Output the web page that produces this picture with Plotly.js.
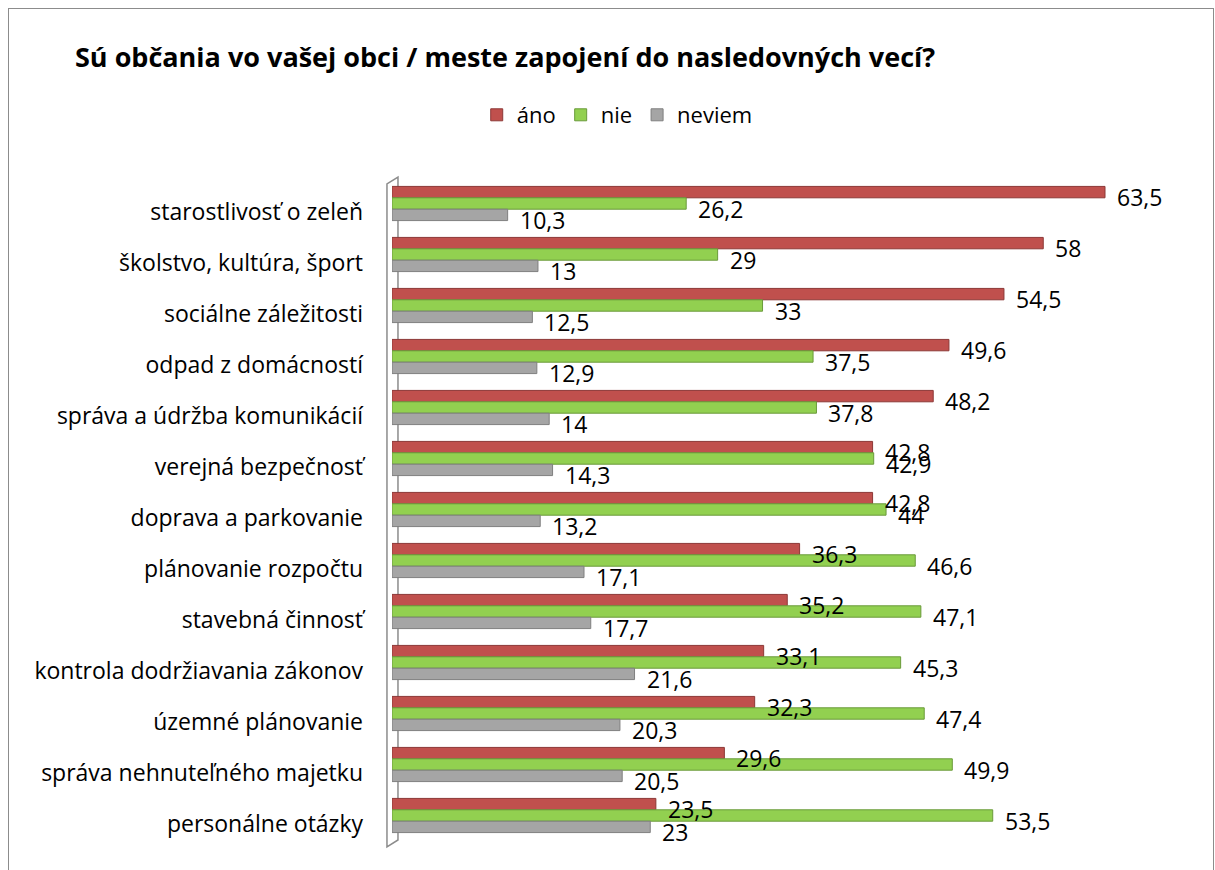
<!DOCTYPE html>
<html>
<head>
<meta charset="utf-8">
<script src="https://cdn.plot.ly/plotly-3.0.1.min.js"></script>
<style>
  html, body { margin: 0; padding: 0; background: #fff; }
  #chart { width: 1215px; height: 870px; position: absolute; left: 0; top: 0; }
  #frame { position: absolute; left: 8px; top: 8px; width: 1204px; height: 900px; border: 1px solid #8c8c8c; pointer-events: none; }
</style>
</head>
<body>
<div id="chart"></div>
<div id="frame"></div>
<script>
const chartTitle = 'Sú občania vo vašej obci / meste zapojení do nasledovných vecí?';
const categories = [
  'starostlivosť o zeleň',
  'školstvo, kultúra, šport',
  'sociálne záležitosti',
  'odpad z domácností',
  'správa a údržba komunikácií',
  'verejná bezpečnosť',
  'doprava a parkovanie',
  'plánovanie rozpočtu',
  'stavebná činnosť',
  'kontrola dodržiavania zákonov',
  'územné plánovanie',
  'správa nehnuteľného majetku',
  'personálne otázky'
];
const seriesNames = ['áno', 'nie', 'neviem'];
const ano    = [63.5, 58, 54.5, 49.6, 48.2, 42.8, 42.8, 36.3, 35.2, 33.1, 32.3, 29.6, 23.5];
const nie    = [26.2, 29, 33, 37.5, 37.8, 42.9, 44, 46.6, 47.1, 45.3, 47.4, 49.9, 53.5];
const neviem = [10.3, 13, 12.5, 12.9, 14, 14.3, 13.2, 17.1, 17.7, 21.6, 20.3, 20.5, 23];

const colors = ['#C0504D', '#92D050', '#A5A5A5'];
const edges  = ['#8C3836', '#6A9A3A', '#7F7F7F'];
const FONT = 'Open Sans, Noto Sans, sans-serif';
const BARGAP = 0.33;

function fmt(v) { return String(v).replace('.', ','); }

const allSeries = [ano, nie, neviem];

const traces = allSeries.map((vals, i) => ({
  type: 'bar',
  orientation: 'h',
  name: seriesNames[i],
  y: categories,
  x: vals,
  marker: { color: colors[i], line: { color: edges[i], width: 1 } },
  hoverinfo: 'x+y+name'
}));

// value labels placed via annotations (Excel-style, slightly below bar centre)
const barW = (1 - BARGAP) / allSeries.length;
const annotations = [];
allSeries.forEach((vals, i) => {
  vals.forEach((v, j) => {
    annotations.push({
      xref: 'x', yref: 'y',
      x: v, y: j + (i - (allSeries.length - 1) / 2) * barW,
      text: fmt(v),
      showarrow: false,
      xanchor: 'left', yanchor: 'middle',
      xshift: 10, yshift: -5,
      font: { family: FONT, size: 23, color: '#000' }
    });
  });
});

const layout = {
  width: 1215,
  height: 870,
  paper_bgcolor: '#fff',
  plot_bgcolor: '#fff',
  margin: { l: 392, r: 37, t: 178, b: 29, autoexpand: false },
  barmode: 'group',
  bargap: BARGAP,
  bargroupgap: 0,
  font: { family: FONT, size: 22, color: '#000' },
  title: {
    text: '<b>' + chartTitle + '</b>',
    font: { family: FONT, size: 27, color: '#000' },
    xref: 'container', x: 75 / 1215, xanchor: 'left',
    yref: 'container', y: 1 - 58 / 870, yanchor: 'middle'
  },
  showlegend: true,
  legend: {
    orientation: 'h',
    xref: 'container', x: 0.508, xanchor: 'center',
    yref: 'container', y: 1 - 115 / 870, yanchor: 'middle',
    font: { family: FONT, size: 22 },
    itemwidth: 30,
    traceorder: 'normal'
  },
  xaxis: {
    range: [0, 70],
    autorange: false,
    showgrid: false,
    zeroline: false,
    showticklabels: false,
    showline: false,
    ticks: ''
  },
  yaxis: {
    type: 'category',
    range: [categories.length - 0.5, -0.5],
    autorange: false,
    showgrid: false,
    zeroline: false,
    showline: false,
    ticks: '',
    automargin: false,
    ticklabelstandoff: 28,
    ticklabelshift: -8,
    tickfont: { family: FONT, size: 23, color: '#000' }
  },
  annotations: annotations,
  shapes: [
    {
      type: 'path', xref: 'paper', yref: 'paper', layer: 'below',
      path: 'M -0.0064,-0.009 L -0.0064,0.991 L 0.0076,1.0015 L 0.0076,0.0015 Z',
      line: { color: '#8c8c8c', width: 1.5 }, fillcolor: 'rgba(0,0,0,0)'
    }
  ]
};

Plotly.newPlot('chart', traces, layout, { displayModeBar: false, staticPlot: true });
</script>
</body>
</html>
